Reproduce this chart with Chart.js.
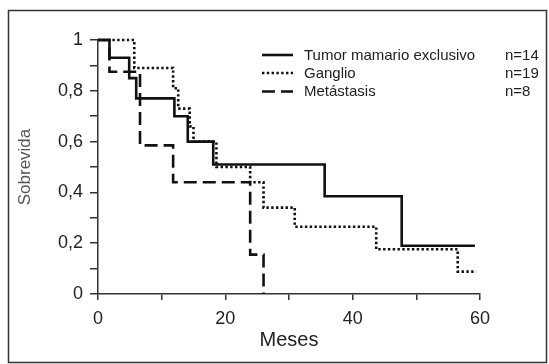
<!DOCTYPE html>
<html><head><meta charset="utf-8">
<script src="https://cdn.jsdelivr.net/npm/chart.js@4/dist/chart.umd.min.js"></script>
<style>html,body{margin:0;padding:0;background:#fff}#wrap{width:549px;height:364px;position:relative}</style>
</head><body><div id="wrap"><canvas id="c" width="549" height="364"></canvas></div>
<script>
const seriesLabels = ['Tumor mamario exclusivo', 'Ganglio', 'Metástasis'];
const seriesN = ['n=14', 'n=19', 'n=8'];
const tumorMonths = [0, 1.8, 4.9, 6.0, 12.0, 14.1, 18.1, 35.6, 47.7, 59.2];
const tumorSurv   = [1, 0.93, 0.85, 0.77, 0.70, 0.60, 0.51, 0.385, 0.19, 0.19];
const gangMonths  = [0, 5.7, 11.8, 12.6, 14.4, 15.0, 18.6, 23.9, 26.0, 30.9, 43.7, 56.5, 59.4];
const gangSurv    = [1, 0.89, 0.81, 0.73, 0.66, 0.60, 0.50, 0.44, 0.34, 0.265, 0.176, 0.088, 0.088];
const metaMonths  = [0, 1.8, 6.6, 11.8, 23.9, 26.0];
const metaSurv    = [1, 0.875, 0.585, 0.44, 0.155, 0];
const xTickLabels = ['0', '20', '40', '60'];
const yTickLabels = ['0', '0,2', '0,4', '0,6', '0,8', '1'];

const FONT = '"Liberation Sans", Arial, Helvetica, sans-serif';
Chart.defaults.font.family = FONT;

function pts(xs, ys) { return xs.map((x, i) => ({x: x, y: ys[i]})); }

const styles = [
  {borderDash: [], borderWidth: 2.6},
  {borderDash: [2.4, 2.4], borderWidth: 2.6},
  {borderDash: [13, 6], borderWidth: 2.6}
];

const frameAndLegend = {
  id: 'frameAndLegend',
  beforeDraw(chart) {
    const ctx = chart.ctx;
    ctx.save();
    ctx.fillStyle = '#fff';
    ctx.fillRect(0, 0, chart.width, chart.height);
    ctx.strokeStyle = '#333';
    ctx.lineWidth = 1.5;
    ctx.strokeRect(8.5, 10.5, 538, 352);
    ctx.restore();
  },
  afterDraw(chart) {
    const ctx = chart.ctx;
    ctx.save();
    const rows = [55, 73, 91.5];
    chart.data.datasets.forEach((ds, i) => {
      const y = rows[i];
      ctx.strokeStyle = '#111';
      ctx.lineWidth = ds.borderWidth;
      ctx.setLineDash(ds.borderDash);
      ctx.beginPath();
      ctx.moveTo(262, y);
      ctx.lineTo(293, y);
      ctx.stroke();
      ctx.setLineDash([]);
      ctx.fillStyle = '#222';
      ctx.font = '15px ' + FONT;
      ctx.textBaseline = 'middle';
      ctx.textAlign = 'left';
      ctx.fillText(ds.label, 304, y + 0.5);
      ctx.fillText(seriesN[i], 505, y + 0.5);
    });
    ctx.restore();
  }
};

const datasets = [
  {label: seriesLabels[0], data: pts(tumorMonths, tumorSurv)},
  {label: seriesLabels[1], data: pts(gangMonths, gangSurv)},
  {label: seriesLabels[2], data: pts(metaMonths, metaSurv)}
].map((d, i) => Object.assign(d, {
  borderColor: '#111', backgroundColor: '#111', stepped: 'before', pointRadius: 0,
  fill: false, tension: 0, clip: 6, borderCapStyle: 'butt'
}, styles[i]));

new Chart(document.getElementById('c'), {
  type: 'line',
  data: {datasets: datasets},
  options: {
    responsive: false, animation: false,
    layout: {padding: {left: 0, top: 40, right: 69, bottom: 0}},
    plugins: {legend: {display: false}, tooltip: {enabled: false}},
    scales: {
      x: {
        type: 'linear', min: 0, max: 60,
        ticks: {
          stepSize: 10, autoSkip: false, maxRotation: 0, color: '#222', padding: 8,
          font: {size: 18},
          callback: (v) => { const i = xTickLabels.indexOf(String(v)); return i >= 0 ? xTickLabels[i] : ''; }
        },
        grid: {display: true, drawOnChartArea: false, drawTicks: true, tickLength: 6, color: '#333', lineWidth: 1.5},
        border: {display: true, color: '#333', width: 1.5},
        title: {display: true, text: 'Meses', color: '#222', font: {size: 20}, padding: {top: 0, bottom: 12}},
        afterFit: (s) => { s.height = 70; }
      },
      y: {
        type: 'linear', min: 0, max: 1,
        ticks: {
          stepSize: 0.1, autoSkip: false, color: '#222', padding: 7,
          font: {size: 18},
          callback: (v) => { const k = Math.round(v * 10); return k % 2 === 0 ? yTickLabels[k / 2] : ''; }
        },
        grid: {display: true, drawOnChartArea: false, drawTicks: true, tickLength: 8, color: '#333', lineWidth: 1.5},
        border: {display: true, color: '#333', width: 1.5},
        title: {display: true, text: 'Sobrevida', color: '#555', font: {size: 17}, padding: {top: 15, bottom: 0}},
        afterFit: (s) => { s.width = 98; }
      }
    }
  },
  plugins: [frameAndLegend]
});
</script>
</body></html>
